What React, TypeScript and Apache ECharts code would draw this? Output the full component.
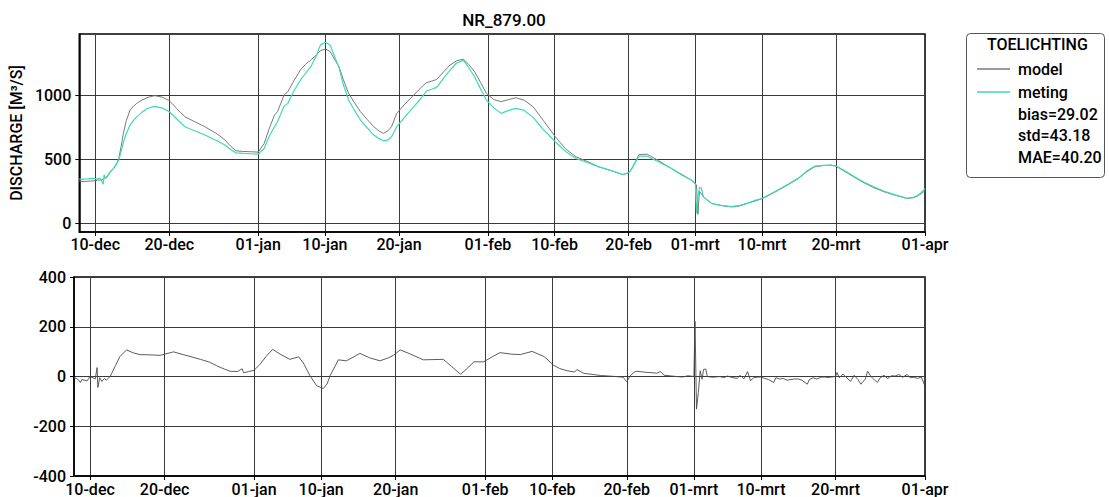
import React, { useEffect, useRef } from 'react';
import * as echarts from 'echarts';

const TITLE = 'NR_879.00';
const Y_NAME = 'DISCHARGE [M³/S]';
const LEGEND_TITLE = 'TOELICHTING';
const STATS = ['bias=29.02', 'std=43.18', 'MAE=40.20'];

// x in days after 10-dec
const X_MIN = -2.15;
const X_MAX = 112;
const tickDays = [0, 10, 22, 31, 41, 53, 62, 72, 81, 90, 100, 112];
const tickLabels = ['10-dec', '20-dec', '01-jan', '10-jan', '20-jan', '01-feb', '10-feb', '20-feb', '01-mrt', '10-mrt', '20-mrt', '01-apr'];
const topTicks = [0, 500, 1000];
const bottomTicks = [-400, -200, 0, 200, 400];

const days = [
  -2.15, -1.5, -1.0, -0.5, 0, 0.3, 0.6, 0.9, 1.1, 1.2, 1.4, 1.7, 2.0, 2.5, 2.9, 3.2, 3.5, 3.8, 4.2, 4.7,
  5.2, 5.6, 6.3, 7.0, 8.0, 9.0, 10.0, 11.0, 12.1, 13.5, 14.8, 16.5, 17.5, 18.3, 19.0, 20.0, 21.0, 22.0, 22.8, 23.5,
  24.2, 24.6, 25.5, 26.0, 26.8, 27.7, 28.4, 29.1, 29.8, 30.4, 31.1, 31.7, 32.3, 32.9, 33.5, 34.2, 35.0, 35.8, 36.7, 37.6,
  38.3, 38.9, 39.5, 40.0, 40.7, 41.8, 43.0, 44.0, 44.7, 45.4, 46.1, 47.0, 47.9, 48.8, 49.7, 50.4, 51.2, 52.0, 52.8, 53.8,
  54.8, 55.8, 56.8, 57.9, 59.1, 60.5, 62.1, 63.5, 64.9, 66.5, 68.0, 69.7, 71.2, 72.0, 72.3, 73.0, 73.4, 74.5, 76.0, 77.4,
  79.2, 80.5, 81.0, 81.15, 81.35, 81.55, 81.8, 82.1, 83.2, 84.5, 85.9, 87.0, 88.2, 89.0, 90.0, 91.0, 92.2, 93.5, 94.9, 96.0,
  97.1, 98.2, 99.3, 100.0, 101.0, 102.0, 103.0, 103.8, 105.0, 106.5, 108.0, 109.6, 110.5, 111.0, 111.5, 112.0,
];
const model = [
  328, 326, 328, 330, 332, 335, 338, 340, 345, 350, 358, 370, 395, 430, 466, 510, 600, 700, 800, 883,
  915, 935, 960, 980, 995, 985, 956, 895, 831, 790, 753, 695, 650, 600, 565, 560, 558, 555, 622, 740,
  844, 870, 1000, 1026, 1110, 1195, 1240, 1273, 1310, 1346, 1359, 1340, 1280, 1221, 1120, 1013, 940, 870, 810, 753,
  720, 701, 720, 753, 857, 930, 1000, 1060, 1096, 1108, 1122, 1180, 1234, 1268, 1279, 1240, 1182, 1100, 1013, 965,
  948, 965, 979, 960, 909, 800, 675, 580, 518, 480, 440, 410, 380, 392, 414, 490, 536, 539, 490, 440,
  380, 336, 305, 300, 70, 250, 230, 206, 154, 138, 128, 135, 159, 172, 193, 220, 258, 300, 349, 400,
  440, 450, 453, 445, 410, 375, 340, 315, 280, 245, 218, 193, 200, 213, 230, 255,
];
const meting = [
  344, 345, 346, 350, 348, 345, 352, 330, 305, 378, 350, 372, 400, 430, 462, 500, 560, 630, 700, 766,
  805, 830, 865, 895, 912, 900, 870, 815, 753, 720, 688, 641, 610, 575, 549, 545, 542, 539, 583, 680,
  753, 792, 914, 935, 1030, 1117, 1170, 1221, 1300, 1391, 1412, 1391, 1300, 1215, 1080, 961, 880, 805, 745, 688,
  660, 643, 650, 675, 753, 830, 909, 975, 1031, 1045, 1060, 1130, 1195, 1250, 1270, 1215, 1143, 1050, 961, 900,
  857, 880, 896, 880, 826, 730, 636, 560, 505, 472, 440, 410, 380, 395, 414, 485, 523, 523, 480, 440,
  375, 336, 310, 80, 200, 280, 275, 206, 154, 140, 130, 140, 159, 178, 193, 225, 262, 305, 352, 405,
  445, 452, 453, 447, 415, 380, 345, 320, 287, 250, 222, 195, 205, 216, 240, 270,
];

const residDays = [
  -2.15, -1.8, -1.5, -1.3, -1.1, -0.7, -0.4, 0.0, 0.4, 0.7, 0.95, 1.05, 1.3, 1.6, 1.9, 2.2, 2.5, 2.7, 3.4, 4.0,
  4.9, 5.8, 6.7, 8.0, 9.4, 10.3, 11.2, 12.5, 14.8, 16.0, 17.0, 18.0, 18.8, 19.8, 20.4, 20.6, 21.3, 22.0, 22.8, 23.6,
  24.5, 25.5, 26.8, 28.0, 28.7, 29.5, 30.4, 31.3, 31.8, 32.2, 33.3, 34.4, 35.3, 36.2, 37.5, 38.9, 40.0, 40.7, 41.6, 43.0,
  44.7, 46.0, 47.4, 48.5, 49.7, 50.5, 51.5, 52.8, 54.0, 55.0, 56.5, 57.7, 59.3, 60.9, 62.2, 63.0, 64.0, 65.0, 65.3, 66.2,
  67.5, 68.5, 69.5, 70.5, 71.5, 72.0, 72.4, 73.0, 73.4, 74.5, 75.5, 76.0, 76.5, 77.0, 78.0, 78.7, 79.5, 80.2, 81.0, 81.15,
  81.35, 81.6, 81.85, 82.1, 82.3, 82.6, 82.8, 83.5, 84.5, 85.0, 85.5, 86.0, 86.8, 87.2, 87.7, 88.2, 88.6, 89.0, 89.5, 90.0,
  90.5, 91.0, 91.7, 92.0, 92.5, 93.0, 93.5, 94.0, 94.5, 95.0, 95.5, 96.2, 96.5, 97.0, 97.5, 98.0, 98.5, 99.0, 99.5, 100.0,
  100.2, 100.5, 101.0, 101.5, 102.0, 102.5, 103.0, 103.4, 104.0, 104.3, 104.7, 105.0, 105.6, 106.0, 106.5, 107.0, 107.5, 108.0, 108.5, 109.0,
  109.6, 110.0, 110.5, 111.0, 111.5, 111.9, 112.0,
];
const resid = [
  -5, -8, -15, -24, -12, -15, -18, 0, -5, -10, 36, -44, -5, -20, -8, -15, -5, 0, 43, 80,
  107, 95, 88, 87, 85, 92, 99, 88, 69, 58, 43, 30, 21, 20, 31, 15, 20, 25, 49, 80,
  109, 90, 69, 79, 50, 3, -37, -48, -30, 3, 67, 63, 78, 93, 75, 63, 75, 85, 107, 90,
  67, 68, 69, 40, 9, 30, 59, 59, 80, 96, 90, 88, 101, 80, 45, 32, 23, 18, 28, 13,
  8, 4, 2, 0, -3, -21, 0, 18, 21, 17, 15, 13, 20, 5, 2, 0, -2, 3, 0, 222,
  -131, -64, 23, -11, 29, 30, 0, -3, 0, -5, 2, -3, -8, 5, -10, 20, -17, -5, -3, -2,
  -8, -12, -24, -5, -10, -8, -15, -12, -10, -10, -15, -31, -12, -5, -10, -3, -2, -4, -2, 0,
  16, -5, 10, -5, -20, 5, -12, -31, -10, 21, 3, -8, -24, -5, 5, -8, 3, 2, 8, -3,
  8, -5, -3, -8, -2, -31, -5,
];

const FONT = 'Roboto';
const MODEL_COLOR = '#7a7a7a';
const METING_COLOR = '#3ddbb6';

export default function App() {
  const ref = useRef<HTMLDivElement>(null);
  useEffect(() => {
    if (!ref.current) return;
    const chart = echarts.init(ref.current, null, { renderer: 'svg' });
    const fmtX = (v: number) => {
      const i = tickDays.indexOf(Math.round(v * 1000) / 1000);
      return i >= 0 ? tickLabels[i] : '';
    };
    const fmtY = (v: number) => String(v);
    const xAxis = (gridIndex: number, margin: number) => ({
      type: 'value',
      gridIndex,
      min: X_MIN,
      max: X_MAX,
      axisLine: { show: true, onZero: false, lineStyle: { color: '#000', width: 1.5 } },
      axisTick: { show: true, customValues: tickDays, length: 4, lineStyle: { color: '#000', width: 1 } },
      axisLabel: {
        customValues: tickDays, formatter: fmtX, color: '#000', fontSize: 16, fontFamily: FONT,
        fontWeight: 500, margin, hideOverlap: false,
      },
      splitLine: { show: true, lineStyle: { color: '#3a3a3a', width: 1 } },
    });
    const yAxisBase = {
      type: 'value',
      axisLine: { show: true, onZero: false, lineStyle: { color: '#000', width: 1.5 } },
      axisTick: { show: true, length: 4, lineStyle: { color: '#000', width: 1 } },
      splitLine: { show: true, lineStyle: { color: '#3a3a3a', width: 1 } },
    };
    const option = {
      animation: false,
      backgroundColor: '#fff',
      title: {
        text: TITLE,
        left: 499,
        top: 6,
        textAlign: 'center',
        textStyle: { fontFamily: FONT, fontSize: 17, fontWeight: 500, color: '#000' },
      },
      legend: {
        data: ['model', 'meting'],
        orient: 'vertical',
        left: 972,
        top: 55,
        icon: 'rect',
        itemWidth: 33,
        itemHeight: 1.5,
        itemGap: 5,
        textStyle: { fontFamily: FONT, fontSize: 16, fontWeight: 500, color: '#000', padding: [0, 0, 0, 3], lineHeight: 18 },
      },
      grid: [
        { left: 74, top: 34, width: 851, height: 198, show: true, borderColor: '#000', borderWidth: 1.5 },
        { left: 74, top: 277, width: 851, height: 200, show: true, borderColor: '#000', borderWidth: 1.5 },
      ],
      xAxis: [xAxis(0, 4), xAxis(1, 5)],
      yAxis: [
        {
          ...yAxisBase,
          gridIndex: 0,
          min: -68,
          max: 1476,
          axisTick: { ...yAxisBase.axisTick, customValues: topTicks },
          axisLabel: { customValues: topTicks, formatter: fmtY, color: '#000', fontSize: 16, fontFamily: FONT, fontWeight: 500, margin: 8 },
          name: Y_NAME,
          nameLocation: 'middle',
          nameGap: 40,
          nameRotate: 90,
          nameTextStyle: { fontFamily: FONT, fontSize: 16, fontWeight: 500, color: '#000' },
        },
        {
          ...yAxisBase,
          gridIndex: 1,
          min: -400,
          max: 400,
          axisTick: { ...yAxisBase.axisTick, customValues: bottomTicks },
          axisLabel: { customValues: bottomTicks, formatter: fmtY, color: '#000', fontSize: 16, fontFamily: FONT, fontWeight: 500, margin: 8 },
        },
      ],
      series: [
        {
          name: 'model', type: 'line', xAxisIndex: 0, yAxisIndex: 0, symbol: 'none',
          lineStyle: { color: MODEL_COLOR, width: 1 }, itemStyle: { color: MODEL_COLOR },
          data: days.map((d, i) => [d, model[i]]),
        },
        {
          name: 'meting', type: 'line', xAxisIndex: 0, yAxisIndex: 0, symbol: 'none',
          lineStyle: { color: METING_COLOR, width: 1.2 }, itemStyle: { color: METING_COLOR },
          data: days.map((d, i) => [d, meting[i]]),
        },
        {
          name: 'verschil', type: 'line', xAxisIndex: 1, yAxisIndex: 1, symbol: 'none',
          lineStyle: { color: '#4a4a4a', width: 0.9 }, itemStyle: { color: '#4a4a4a' },
          data: residDays.map((d, i) => [d, resid[i]]),
        },
      ],
      graphic: [
        {
          type: 'rect', left: 966, top: 33, z: -1,
          shape: { width: 138, height: 144, r: 4 },
          style: { fill: '#fff', stroke: '#555', lineWidth: 1 },
        },
        {
          type: 'text', left: 1035 - 48, top: 36,
          style: { text: LEGEND_TITLE, fontFamily: FONT, fontSize: 16, fontWeight: 500, fill: '#000' },
        },
        ...STATS.map((s, i) => ({
          type: 'text', left: 1018, top: 106 + i * 21.5,
          style: { text: s, fontFamily: FONT, fontSize: 16, fontWeight: 500, fill: '#000' },
        })),
      ],
    };
    chart.setOption(option as any);
    return () => chart.dispose();
  }, []);
  return <div ref={ref} style={{ position: 'fixed', left: 0, top: 0, width: 1109, height: 497 }} />;
}
